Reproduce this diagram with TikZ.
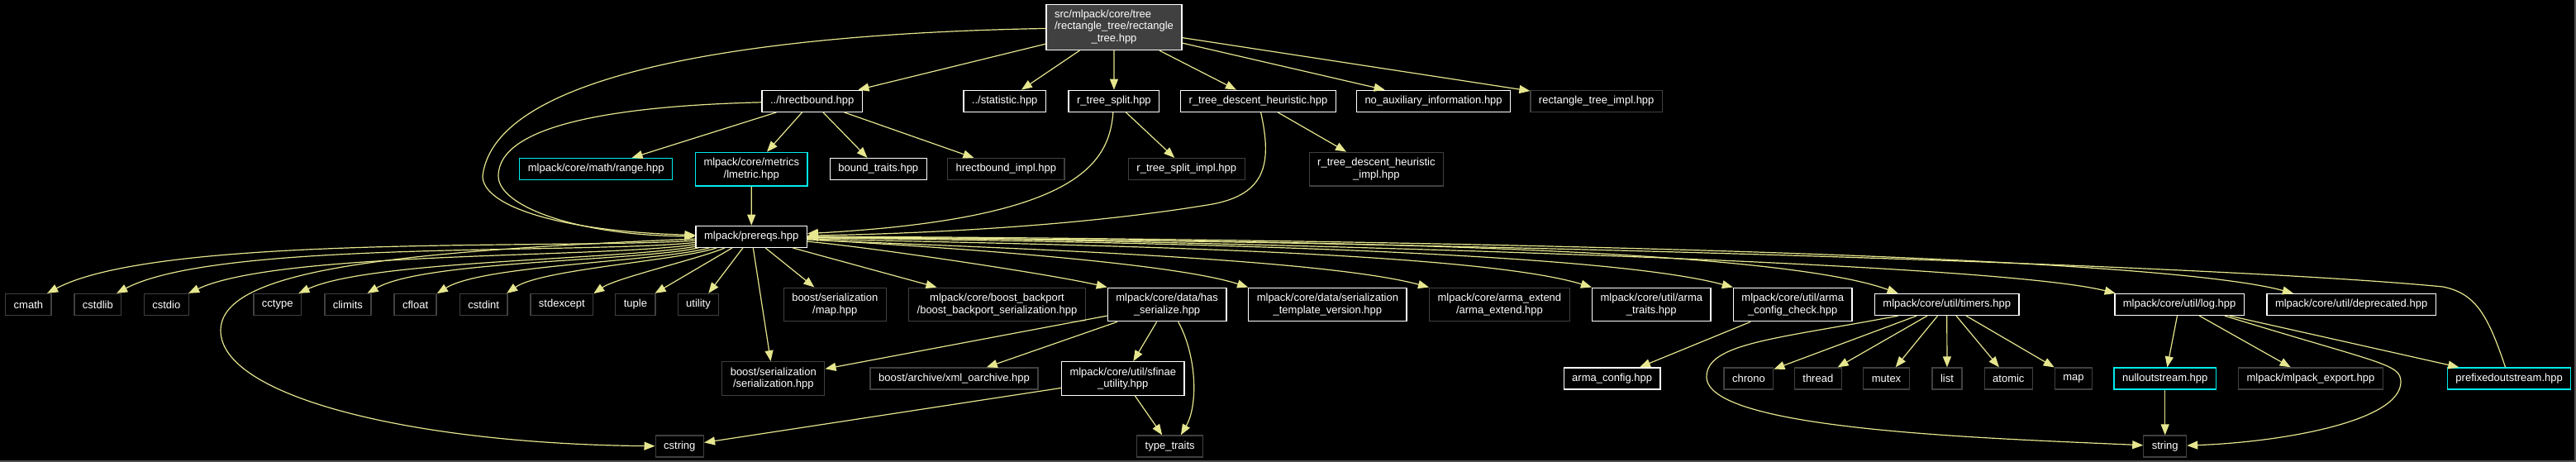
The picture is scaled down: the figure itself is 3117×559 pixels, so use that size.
\documentclass[tikz,border=0pt]{standalone}
\usepackage{fontspec}
\setmainfont{Liberation Sans}
\usepackage{tikz}
\usetikzlibrary{arrows.meta}

\definecolor{edgeyellow}{HTML}{E6E68F}
\definecolor{undocgrey}{HTML}{404040}
\definecolor{rootgrey}{HTML}{404040}
\definecolor{cutcyan}{HTML}{00EBEB}
\definecolor{framegrey}{HTML}{505050}

\tikzset{
    file/.style={rectangle, line width=1.3pt, fill=black, text=white,
        font=\fontsize{13}{14.7}\selectfont, inner xsep=10pt, inner ysep=2pt,
        minimum height=26pt},
    docfile/.style={file, draw=white},
    plainfile/.style={file, draw=undocgrey},
    cutfile/.style={file, draw=cutcyan},
    mainfile/.style={file, draw=white, fill=rootgrey, minimum height=55pt},
    twolines/.style={align=center, minimum height=40.6pt},
    dep/.style={draw=edgeyellow, line width=1.2pt, -{Triangle[length=13pt,width=10pt]}},
    fan/.style={dep, looseness=0.5}
}

\begin{document}
\begin{tikzpicture}[x=1pt, y=1pt]
        \useasboundingbox (0,0) rectangle (3117,-559);
        \fill[black] (0,0) rectangle (3117,-559);
        \draw[framegrey, line width=1.5pt] (0,-558) -- (3116,-558) -- (3116,0);

        \node[mainfile] (root) at (1348,-33) {\begin{tabular}{@{}l@{}}src/mlpack/core/tree\\/rectangle\_tree/rectangle\\\multicolumn{1}{@{}c@{}}{\_tree.hpp}\end{tabular}};

        \node[docfile] (hrect) at (982.7,-122.3) {../hrectbound.hpp};
        \node[docfile] (stat) at (1215.7,-122.3) {../statistic.hpp};
        \node[docfile] (rsplit) at (1347.9,-122.3) {r\_tree\_split.hpp};
        \node[docfile] (rdesc) at (1522.5,-122.3) {r\_tree\_descent\_heuristic.hpp};
        \node[docfile] (noaux) at (1734.6,-122.3) {no\_auxiliary\_information.hpp};
        \node[plainfile] (rtimpl) at (1931.7,-122.3) {rectangle\_tree\_impl.hpp};

        \node[cutfile] (range) at (721.2,-204.6) {mlpack/core/math/range.hpp};
        \node[cutfile, twolines] (lmetric) at (909.3,-204.6) {mlpack/core/metrics\\/lmetric.hpp};
        \node[docfile] (btraits) at (1062.8,-204.6) {bound\_traits.hpp};
        \node[plainfile] (hrimpl) at (1217.3,-204.6) {hrectbound\_impl.hpp};
        \node[plainfile] (rsimpl) at (1435.8,-204.6) {r\_tree\_split\_impl.hpp};
        \node[plainfile, twolines] (rdimpl) at (1665.4,-204.6) {r\_tree\_descent\_heuristic\\\_impl.hpp};

        \node[docfile] (prereqs) at (909.2,-286.3) {mlpack/prereqs.hpp};

        \node[plainfile] (cmath) at (34.4,-368.5) {cmath};
        \node[plainfile] (cstdlib) at (118.4,-368.5) {cstdlib};
        \node[plainfile] (cstdio) at (201.3,-368.5) {cstdio};
        \node[plainfile] (cctype) at (335.7,-368.5) {cctype};
        \node[plainfile] (climits) at (420.9,-368.5) {climits};
        \node[plainfile] (cfloat) at (502.6,-368.5) {cfloat};
        \node[plainfile] (cstdint) at (585.2,-368.5) {cstdint};
        \node[plainfile] (stdexcept) at (679.8,-368.5) {stdexcept};
        \node[plainfile] (tuple) at (768.9,-368.5) {tuple};
        \node[plainfile] (utility) at (845,-368.5) {utility};
        \node[plainfile, twolines] (bmap) at (1010.3,-368.5) {boost/serialization\\/map.hpp};
        \node[plainfile, twolines] (bbp) at (1206.5,-368.5) {mlpack/core/boost\_backport\\/boost\_backport\_serialization.hpp};
        \node[docfile, twolines] (hasser) at (1412.1,-368.5) {mlpack/core/data/has\\\_serialize.hpp};
        \node[docfile, twolines] (stv) at (1606.4,-368.5) {mlpack/core/data/serialization\\\_template\_version.hpp};
        \node[plainfile, twolines] (armaext) at (1814.4,-368.5) {mlpack/core/arma\_extend\\/arma\_extend.hpp};
        \node[docfile, twolines] (armatr) at (1998.3,-368.5) {mlpack/core/util/arma\\\_traits.hpp};
        \node[docfile, twolines] (armacc) at (2169.2,-368.5) {mlpack/core/util/arma\\\_config\_check.hpp};
        \node[docfile] (timers) at (2355.7,-368.5) {mlpack/core/util/timers.hpp};
        \node[docfile] (utillog) at (2637.1,-368.5) {mlpack/core/util/log.hpp};
        \node[docfile] (depr) at (2845.1,-368.5) {mlpack/core/util/deprecated.hpp};

        \node[plainfile, twolines] (bser) at (935.8,-458) {boost/serialization\\/serialization.hpp};
        \node[plainfile] (xmlo) at (1154.5,-458) {boost/archive/xml\_oarchive.hpp};
        \node[docfile, twolines] (sfinae) at (1358.8,-458) {mlpack/core/util/sfinae\\\_utility.hpp};
        \node[docfile] (armacfg) at (1950.6,-458) {arma\_config.hpp};
        \node[plainfile] (chrono) at (2115.9,-458) {chrono};
        \node[plainfile] (thread) at (2199.8,-458) {thread};
        \node[plainfile] (mutex) at (2282.5,-458) {mutex};
        \node[plainfile] (stllist) at (2356,-458) {list};
        \node[plainfile] (atomic) at (2430.3,-458) {atomic};
        \node[plainfile] (stlmap) at (2509,-458) {map};
        \node[cutfile] (nullos) at (2619.7,-458) {nulloutstream.hpp};
        \node[plainfile] (mlexp) at (2795.9,-458) {mlpack/mlpack\_export.hpp};
        \node[cutfile] (prefos) at (3036.1,-458) {prefixedoutstream.hpp};

        \node[plainfile] (cstring) at (822.3,-540) {cstring};
        \node[plainfile] (typetr) at (1415.7,-540) {type\_traits};
        \node[plainfile] (stlstring) at (2619.7,-540) {string};

        \draw[dep] (root) -- (hrect);
        \draw[dep] (root) -- (stat);
        \draw[dep] (root) -- (rsplit);
        \draw[dep] (root) -- (rdesc);
        \draw[dep] (root) -- (noaux);
        \draw[dep] (root) -- (rtimpl);
        \draw[dep] (root) .. controls (950,-40) and (600,-80) .. (584,-213) .. controls (584,-250) and (680,-280) .. (prereqs);

        \draw[dep] (hrect) -- (range);
        \draw[dep] (hrect) -- (lmetric);
        \draw[dep] (hrect) -- (btraits);
        \draw[dep] (hrect) -- (hrimpl);
        \draw[dep] (hrect) .. controls (750,-128) and (603,-150) .. (603,-213) .. controls (603,-250) and (700,-285) .. (prereqs);
        \draw[dep] (lmetric) -- (prereqs);

        \draw[dep] (rsplit) -- (rsimpl);
        \draw[dep] (rsplit) .. controls (1342,-200) and (1300,-265) .. (prereqs);
        \draw[dep] (rdesc) -- (rdimpl);
        \draw[dep] (rdesc) .. controls (1540,-200) and (1530,-235) .. (1467,-247) .. controls (1300,-275) and (1100,-283) .. (prereqs);

        \draw[fan] (prereqs) to[out=184, in=28] (cmath.31);
        \draw[fan] (prereqs) to[out=186, in=28] (cstdlib.31);
        \draw[fan] (prereqs) to[out=188, in=25] (cstdio.27);
        \draw[fan] (prereqs) to[out=190, in=25] (cctype.28);
        \draw[fan] (prereqs) to[out=192, in=30] (climits.30);
        \draw[fan] (prereqs) to[out=195, in=32] (cfloat.27);
        \draw[fan] (prereqs) to[out=198, in=35] (cstdint.26);
        \draw[fan] (prereqs) to[out=203, in=35] (stdexcept.19);
        \draw[dep] (prereqs) -- (tuple.30);
        \draw[dep] (prereqs) -- (utility.48);
        \draw[dep] (prereqs) -- (bser);
        \draw[dep] (prereqs) -- (bmap.140);
        \draw[dep] (prereqs) -- (bbp.164);
        \draw[fan] (prereqs) to[out=-5, in=167] (hasser.north west);
        \draw[fan] (prereqs) to[out=-3, in=162] (stv.north west);
        \draw[fan] (prereqs) to[out=-3, in=165] (armaext.north west);
        \draw[dep] (prereqs.-2) .. controls +(-2:167) and +(163:167) .. (armatr.north west);
        \draw[dep] (prereqs.-1) .. controls +(-1:197) and +(165:197) .. (armacc.north west);
        \draw[dep] (prereqs.-1) .. controls +(-1:207) and +(160:207) .. (timers.167);
        \draw[dep] (prereqs.0) .. controls +(0:186) and +(166:186) .. (utillog.170);
        \draw[dep] (prereqs.0) .. controls +(0:228) and +(165:228) .. (depr.169);
        \draw[dep] (prereqs) .. controls (450,-305) and (267,-330) .. (267,-400) .. controls (267,-480) and (500,-537) .. (cstring);

        \draw[dep] (hasser) -- (bser);
        \draw[dep] (hasser) -- (xmlo);
        \draw[dep] (hasser) -- (sfinae);
        \draw[dep] (hasser.303) .. controls (1448,-430) and (1450,-490) .. (typetr.46);
        \draw[dep] (sfinae) -- (typetr);
        \draw[dep] (sfinae) -- (cstring);

        \draw[dep] (armacc) -- (armacfg);

        \draw[dep] (timers) -- (chrono);
        \draw[dep] (timers) -- (thread);
        \draw[dep] (timers) -- (mutex);
        \draw[dep] (timers) -- (stllist);
        \draw[dep] (timers) -- (atomic);
        \draw[dep] (timers) -- (stlmap);
        \draw[dep] (timers.193) .. controls (2150,-410) and (2065,-415) .. (2065,-456) .. controls (2065,-520) and (2400,-530) .. (stlstring);

        \draw[dep] (utillog) -- (nullos);
        \draw[dep] (utillog) -- (mlexp);
        \draw[dep] (utillog) -- (prefos);
        \draw[dep] (utillog.346) .. controls (2880,-440) and (2905,-440) .. (2905,-462) .. controls (2905,-510) and (2760,-535) .. (stlstring);
        \draw[dep] (nullos) -- (stlstring);
        \draw[dep] (prefos) .. controls (3010,-380) and (2995,-355) .. (2956,-347) .. controls (2700,-322) and (1800,-292) .. (prereqs);
\end{tikzpicture}
\end{document}
